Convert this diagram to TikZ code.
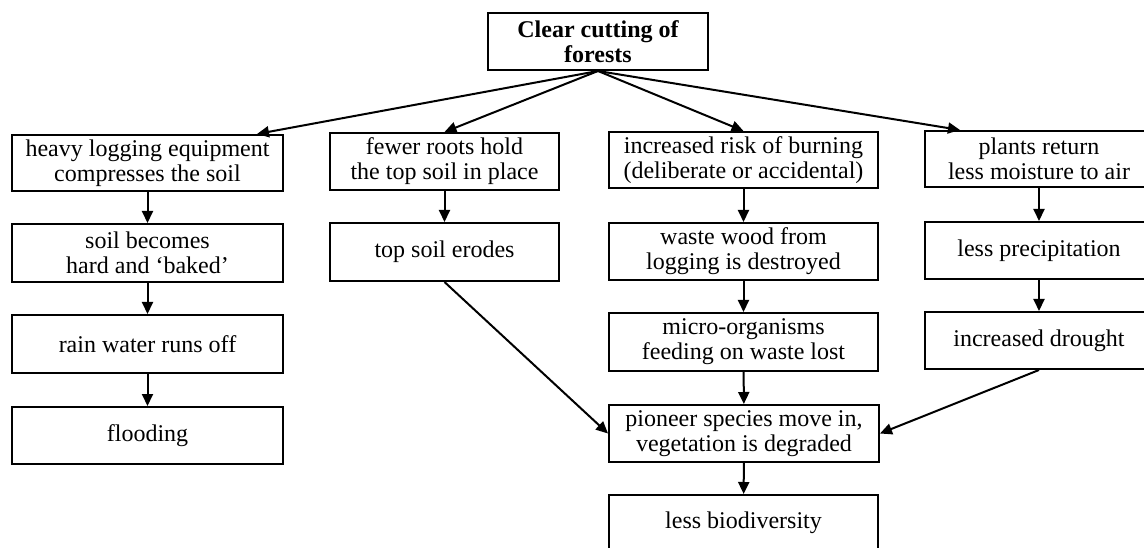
\documentclass[tikz,border=0pt]{standalone}
\usepackage{fontspec}
\setmainfont{Liberation Serif}
\usetikzlibrary{arrows.meta}
\begin{document}
\begin{tikzpicture}[x=1pt,y=-1pt,
  box/.style={draw, line width=2pt, inner sep=0pt, align=center,
    font=\fontsize{24}{25}\selectfont},
  arr/.style={line width=2pt, -{Triangle[length=12pt,width=11pt]}}]
\useasboundingbox (0,0) rectangle (1144,548);
\node[box, font=\fontsize{24}{25}\selectfont\bfseries, minimum width=220pt, minimum height=57pt] (top) at (598,41.5) {Clear cutting of\\forests};
% column A
\node[box, minimum width=271pt, minimum height=56pt] (A1) at (147.5,163) {heavy logging equipment\\compresses the soil};
\node[box, minimum width=271pt, minimum height=58pt] (A2) at (147.5,253) {soil becomes\\hard and ‘baked’};
\node[box, minimum width=271pt, minimum height=58pt] (A3) at (147.5,344) {rain water runs off};
\node[box, minimum width=271pt, minimum height=57pt] (A4) at (147.5,435.5) {flooding};
% column B
\node[box, minimum width=229pt, minimum height=57pt] (B1) at (444.5,161.5) {fewer roots hold\\the top soil in place};
\node[box, minimum width=229pt, minimum height=58pt] (B2) at (444.5,252) {top soil erodes};
% column C
\node[box, minimum width=269pt, minimum height=56pt] (C1) at (743.5,160) {increased risk of burning\\(deliberate or accidental)};
\node[box, minimum width=269pt, minimum height=57pt] (C2) at (743.5,251.5) {waste wood from\\logging is destroyed};
\node[box, minimum width=269pt, minimum height=58pt] (C3) at (743.5,342) {micro-organisms\\feeding on waste lost};
\node[box, minimum width=270pt, minimum height=57pt] (C4) at (744,433.5) {pioneer species move in,\\vegetation is degraded};
\node[box, minimum width=269pt, minimum height=56pt] (C5) at (743.5,523) {less biodiversity};
% column D
\node[box, minimum width=228pt, minimum height=56pt] (D1) at (1039,159) {plants return\\less moisture to air};
\node[box, minimum width=228pt, minimum height=57pt] (D2) at (1039,250.5) {less precipitation};
\node[box, minimum width=228pt, minimum height=57pt] (D3) at (1039,340.5) {increased drought};
% arrows from top
\draw[arr] (top.south) -- ([xshift=109.5pt]A1.north);
\draw[arr] (top.south) -- (B1.north);
\draw[arr] (top.south) -- (C1.north);
\draw[arr] (top.south) -- ([xshift=-79pt]D1.north);
% vertical chains
\draw[arr] (A1) -- (A2);
\draw[arr] (A2) -- (A3);
\draw[arr] (A3) -- (A4);
\draw[arr] (B1) -- (B2);
\draw[arr] (C1) -- (C2);
\draw[arr] (C2) -- (C3);
\draw[arr] (C3) -- (C4);
\draw[arr] (C4) -- (C5);
\draw[arr] (D1) -- (D2);
\draw[arr] (D2) -- (D3);
% converging arrows
\draw[arr] (B2.south) -- (C4.west);
\draw[arr] (D3.south) -- (C4.east);
\end{tikzpicture}
\end{document}
